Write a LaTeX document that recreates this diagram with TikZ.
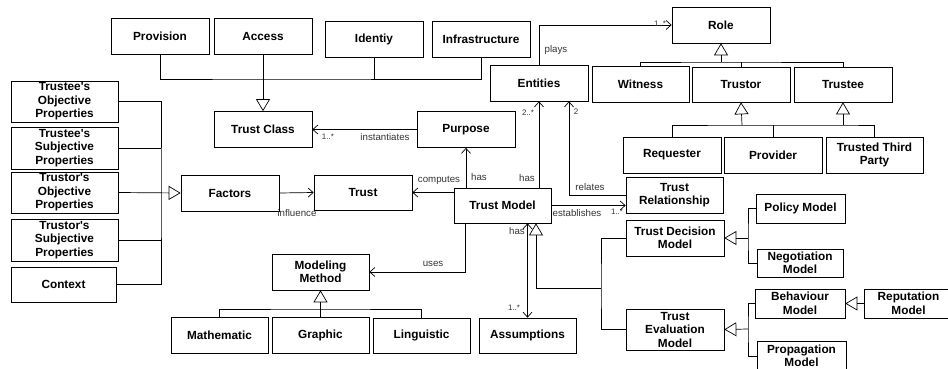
\documentclass[tikz,border=0pt]{standalone}
\usepackage{fontspec}
\setmainfont{Liberation Sans}
\usetikzlibrary{arrows.meta}
\begin{document}
\begin{tikzpicture}
  [x=1pt,y=-1pt,line width=.7pt,
   box/.style={draw,rectangle,minimum width=98pt,minimum height=36pt,inner sep=1pt,align=center,
     font=\bfseries\fontsize{11.8}{13.5}\selectfont},
   lbl/.style={inner sep=0pt,text=black!80,font=\fontsize{9.7}{11}\selectfont},
   mult/.style={inner sep=0pt,text=black!80,font=\fontsize{8}{9}\selectfont},
   gen/.style={-{Triangle[open,length=12pt,width=14pt]}},
   assoc/.style={-{Straight Barb[length=5pt,width=9pt]}}]
  \clip (0,0) rectangle (948,369);
  \node[box] (prov) at (160,36) {Provision};
  \node[box] (acc) at (263,36) {Access};
  \node[box] (ident) at (374,39.5) {Identiy};
  \node[box] (infra) at (481,39.5) {Infrastructure};
  \node[box] (tclass) at (263,129.5) {Trust Class};
  \node[box] (purpose) at (466,129.5) {Purpose};
  \node[box] (entities) at (539,83) {Entities};
  \node[box] (role) at (721,25) {Role};
  \node[box,minimum width=97pt] (witness) at (640.5,84) {Witness};
  \node[box,minimum height=35pt] (trustor) at (741,84.5) {Trustor};
  \node[box,minimum height=35pt] (trustee) at (843,84.5) {Trustee};
  \node[box] (requester) at (672,155) {Requester};
  \node[box] (provider) at (773,155) {Provider};
  \node[box,minimum width=97pt] (ttp) at (874.5,155) {Trusted Third\\Party};
  \node[box,minimum width=107pt,minimum height=41pt] (teop) at (64.5,101.5) {Trustee\textquotesingle s\\Objective\\Properties};
  \node[box,minimum width=107pt,minimum height=42pt] (tesp) at (64.5,148) {Trustee\textquotesingle s\\Subjective\\Properties};
  \node[box,minimum width=107pt,minimum height=41pt] (trop) at (64.5,192.5) {Trustor\textquotesingle s\\Objective\\Properties};
  \node[box,minimum width=107pt,minimum height=42pt] (trsp) at (64.5,240) {Trustor\textquotesingle s\\Subjective\\Properties};
  \node[box,minimum width=105pt,minimum height=35pt] (context) at (63.5,284.5) {Context};
  \node[box] (factors) at (230,193) {Factors};
  \node[box,minimum height=35pt] (trust) at (363,192.5) {Trust};
  \node[box,minimum width=97pt,minimum height=35pt] (tmodel) at (502.5,205.5) {Trust Model};
  \node[box,minimum width=97pt] (trel) at (674.5,195) {Trust\\Relationship};
  \node[box,minimum width=97pt] (mmethod) at (320.5,272) {Modeling\\Method};
  \node[box,minimum width=97pt] (math) at (219.5,335) {Mathematic};
  \node[box,minimum width=97pt] (graphic) at (320.5,335) {Graphic};
  \node[box,minimum width=97pt,minimum height=35pt] (ling) at (421.5,335.5) {Linguistic};
  \node[box,minimum width=97pt,minimum height=35pt] (assum) at (527.5,335.5) {Assumptions};
  \node[box] (tdm) at (675,238) {Trust Decision\\Model};
  \node[box,minimum height=41pt] (tem) at (675,329.5) {Trust\\Evaluation\\Model};
  \node[box,minimum width=89pt,minimum height=29pt] (policy) at (800.5,208.5) {Policy Model};
  \node[box,minimum width=86pt,minimum height=28pt] (nego) at (800,263) {Negotiation\\Model};
  \node[box,minimum width=90pt,minimum height=29pt] (behav) at (800,303.5) {Behaviour\\Model};
  \node[box,minimum width=89pt,minimum height=30pt] (prop) at (801.5,356) {Propagation\\Model};
  \node[box,minimum width=89pt,minimum height=29pt] (reput) at (908.5,303.5) {Reputation\\Model};

  \coordinate (tbus) at (263,79);
  \coordinate (fbus) at (161,193);
  \coordinate (rbus) at (721,62);
  \coordinate (sb1) at (742,125);
  \coordinate (sb2) at (843,125);
  \coordinate (mmbus) at (320.5,309);
  \coordinate (mbus) at (601,288);
  \coordinate (dbus) at (748,238);
  \coordinate (ebus) at (748,329);

  \draw[gen] (acc) -- (tclass);
  \draw (prov.south) |- (tbus) -| (infra.south);
  \draw (ident.south) -- (ident.south |- tbus);

  \draw (teop.east) -| (fbus) |- (context.east);
  \draw (tesp.east) -- (tesp.east -| fbus);
  \draw (trsp.east) -- (trsp.east -| fbus);
  \draw[gen] (trop.east) -- (factors.west);

  \draw[gen] (rbus) -- (role.south);
  \draw (witness.north) |- (rbus) -| (trustee.north);
  \draw (trustor.north) -- (trustor.north |- rbus);
  \draw[gen] (sb1) -- (trustor.south);
  \draw[gen] (sb2) -- (trustee.south);
  \draw (requester.north) |- (sb1) -- (sb2) -| (ttp.north);
  \draw (provider.north) -- (provider.north |- sb1);

  \draw[gen] (graphic.north) -- (mmethod.south);
  \draw (math.north) |- (mmbus) -| (ling.north);

  \draw[gen] (mbus) -| ([xshift=33.5pt]tmodel.south);
  \draw (tdm.west) -| (mbus) |- (tem.west);
  \draw[gen] (dbus) -- (tdm.east);
  \draw (policy.west) -| (dbus) |- (nego.west);
  \draw[gen] (ebus) -- (tem.east);
  \draw (behav.west) -| (ebus) |- (prop.west);
  \draw[gen] (reput.west) -- (behav.east);

  \path[assoc,draw]
        (purpose.west) edge (tclass.east)
        (factors.east) edge (trust.west)
        (tmodel.west |- trust) edge (trust.east)
        (purpose.south |- tmodel.north) edge (purpose.south)
        (entities.south |- tmodel.north) edge (entities.south)
        (tmodel.east) edge (tmodel.east -| trel.west)
        (assum.north |- tmodel.south) edge (assum.north);
  \draw[assoc] (entities.north) |- (role.west);
  \draw[assoc] (trel.west) -| ([xshift=30pt]entities.south);
  \draw[assoc] ([xshift=-37.5pt]tmodel.south) |- (mmethod.east);

  \node[mult] (m1) at (328,137) {1..*};
  \node[lbl] (l1) at (385,137) {instantiates};
  \node[lbl] (l2) at (556,50) {plays};
  \node[mult] (m2) at (660,24) {1..*};
  \node[mult] (m3) at (528,113) {2..*};
  \node[mult] (m4) at (576,112) {2};
  \node[lbl] (l3) at (479,177) {has};
  \node[lbl] (l4) at (527,178) {has};
  \node[lbl] (l5) at (439,180) {computes};
  \node[lbl] (l6) at (590,187) {relates};
  \node[lbl] (l7) at (297,213) {influence};
  \node[lbl] (l8) at (577,213.5) {establishes};
  \node[mult] (m5) at (617,212) {1..*};
  \node[lbl] (l9) at (433,264) {uses};
  \node[lbl] (l10) at (517,231) {has};
  \node[mult] (m6) at (514,308) {1..*};
\end{tikzpicture}
\end{document}
